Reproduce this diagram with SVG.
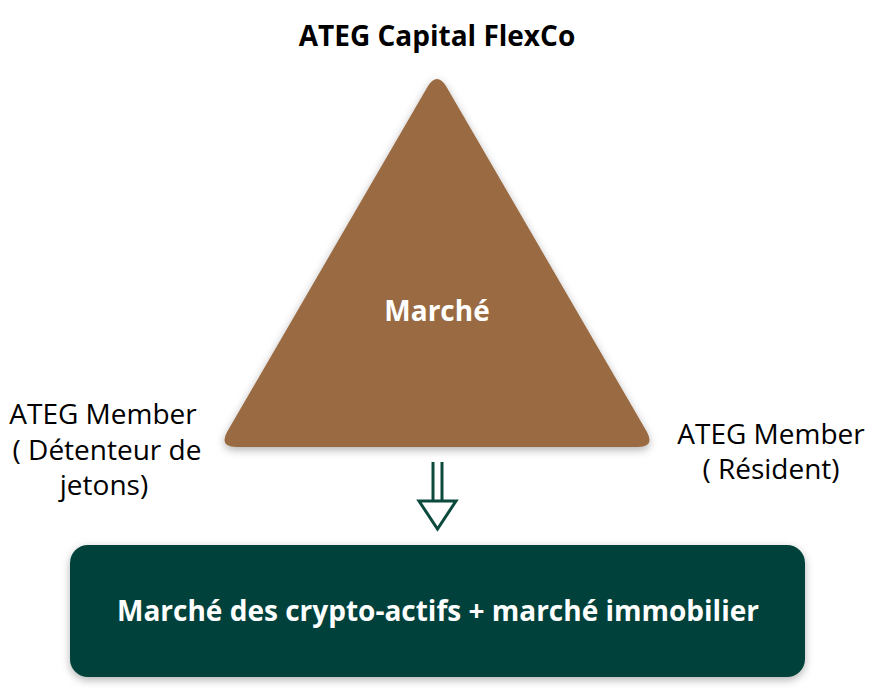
<svg xmlns="http://www.w3.org/2000/svg" width="874" height="699" viewBox="0 0 874 699">
<defs>
<style>
.t{font-family:"Open Sans","Noto Sans",sans-serif;fill:#000}
.b{font-weight:700}
.m{font-weight:400;font-size:28px}
.w{fill:#fff;font-weight:700}
</style>
<filter id="sh" x="-10%" y="-10%" width="120%" height="130%">
<feDropShadow dx="0" dy="3" stdDeviation="4" flood-color="#000" flood-opacity="0.3"/>
</filter>
</defs>
<rect width="874" height="699" fill="#fff"/>
<g id="top-label"><text class="t b" x="437" y="46" font-size="28" text-anchor="middle">ATEG Capital FlexCo</text></g>
<g id="triangle">
<path d="M428,86 Q437,72 446,86 L647,432 Q655,447 638,447 L236,447 Q219,447 227,432 Z" fill="#9A6B42" filter="url(#sh)"/>
<text class="t w" x="437" y="321" font-size="28" text-anchor="middle">Marché</text>
</g>
<g id="left-label">
<text class="t m" x="103" y="424" text-anchor="middle">ATEG Member</text>
<text class="t m" x="107" y="460" text-anchor="middle">( Détenteur de</text>
<text class="t m" x="104" y="495" text-anchor="middle">jetons)</text>
</g>
<g id="right-label">
<text class="t m" x="771" y="444" text-anchor="middle">ATEG Member</text>
<text class="t m" x="771" y="479" text-anchor="middle">( Résident)</text>
</g>
<g id="connectors" fill="none" stroke="#0B4A3C" stroke-width="3">
<line x1="433" y1="462" x2="433" y2="501"/>
<line x1="442" y1="462" x2="442" y2="501"/>
<path d="M419,501 L456,501 L437.5,529 Z" stroke-linejoin="miter"/>
</g>
<g id="bottom-box">
<rect x="70" y="545" width="735" height="132" rx="18" fill="#06423A" filter="url(#sh)"/>
<text class="t w" x="438" y="621" font-size="28" text-anchor="middle">Marché des crypto-actifs + marché immobilier</text>
</g>
</svg>
